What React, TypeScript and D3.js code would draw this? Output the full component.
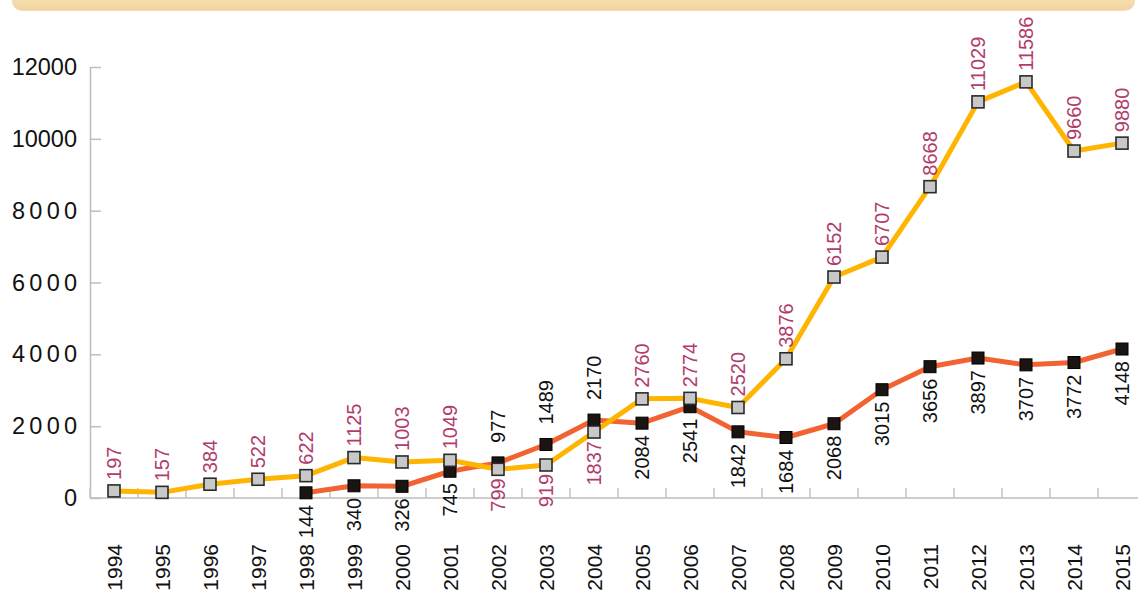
import React, { useEffect, useRef } from "react";
import * as d3 from "d3";

const years = [
  "1994", "1995", "1996", "1997", "1998", "1999", "2000", "2001", "2002", "2003", "2004",
  "2005", "2006", "2007", "2008", "2009", "2010", "2011", "2012", "2013", "2014", "2015",
];

// gray-square series (yellow line)
const seriesA = [
  197, 157, 384, 522, 622, 1125, 1003, 1049, 799, 919, 1837,
  2760, 2774, 2520, 3876, 6152, 6707, 8668, 11029, 11586, 9660, 9880,
];
// black-square series (red line), starts in 1998
const seriesB = [
  null, null, null, null, 144, 340, 326, 745, 977, 1489, 2170,
  2084, 2541, 1842, 1684, 2068, 3015, 3656, 3897, 3707, 3772, 4148,
];

// label side for each point: "up" or "down"
const labelSideA = years.map(y => (y === "2002" || y === "2003" || y === "2004" ? "down" : "up"));
const labelSideB = years.map(y => (y === "2002" || y === "2003" || y === "2004" ? "up" : "down"));

const yTicks = [0, 2000, 4000, 6000, 8000, 10000, 12000];

const W = 1138;
const H = 591;
const FONT = "'Liberation Sans', Arial, Helvetica, sans-serif";

const App = () => {
  const ref = useRef<SVGSVGElement>(null);

  useEffect(() => {
    const svg = d3.select(ref.current);
    svg.selectAll("*").remove();

    const left = 90;
    const base = 498;

    // top banner
    const defs = svg.append("defs");
    const grad = defs.append("linearGradient")
      .attr("id", "banner")
      .attr("x1", 0).attr("y1", 0).attr("x2", 0).attr("y2", 1);
    grad.append("stop").attr("offset", "0%").attr("stop-color", "#fdf0d2");
    grad.append("stop").attr("offset", "100%").attr("stop-color", "#f2d49c");
    svg.append("rect")
      .attr("x", 12).attr("y", -20)
      .attr("width", 1123).attr("height", 31)
      .attr("rx", 10)
      .attr("fill", "#ecdcc0");
    svg.append("rect")
      .attr("x", 12).attr("y", -20)
      .attr("width", 1122).attr("height", 30)
      .attr("rx", 10)
      .attr("fill", "url(#banner)");

    const x = d3.scaleBand()
      .domain(years)
      .range([left, left + 48 * years.length])
      .padding(0);

    const y = d3.scaleLinear()
      .domain([0, 12000])
      .range([base, 67]);

    const cx = (d: string) => x(d)! + x.bandwidth() / 2;

    // y axis
    const yAxis = svg.append("g")
      .attr("transform", `translate(${left},0)`)
      .call(
        d3.axisLeft(y)
          .tickValues(yTicks)
          .tickSizeInner(-11)
          .tickSizeOuter(0)
          .tickPadding(13)
          .tickFormat(d3.format("d"))
      );
    yAxis.select(".domain").attr("stroke", "#bdbdbd").attr("stroke-width", 1.5);
    yAxis.selectAll(".tick line").attr("stroke", "#bdbdbd").attr("stroke-width", 1.5);
    yAxis.selectAll(".tick text")
      .attr("font-family", FONT)
      .attr("font-size", 23.5)
      .attr("fill", "#111")
      .attr("x", -13)
      .each(function (d: any) {
        if (d >= 2000 && d < 10000) {
          d3.select(this).attr("textLength", 65).attr("lengthAdjust", "spacing");
        }
      });

    // x axis
    const xg = svg.append("g");
    xg.append("line")
      .attr("x1", left).attr("x2", W)
      .attr("y1", base).attr("y2", base)
      .attr("stroke", "#bdbdbd").attr("stroke-width", 1.5);
    xg.selectAll("line.tick")
      .data(years)
      .join("line")
      .attr("class", "tick")
      .attr("x1", d => x(d)!).attr("x2", d => x(d)!)
      .attr("y1", base).attr("y2", base - 10)
      .attr("stroke", "#c4c4c4").attr("stroke-width", 1.5);
    xg.selectAll("text")
      .data(years)
      .join("text")
      .attr("transform", d => `translate(${cx(d) + 8},544) rotate(-90)`)
      .attr("text-anchor", "end")
      .attr("font-family", FONT)
      .attr("font-size", 21)
      .attr("fill", "#111")
      .text(d => d);

    const rowsA = years.map((yr, i) => ({ yr, v: seriesA[i], side: labelSideA[i] }));
    const rowsB = years
      .map((yr, i) => ({ yr, v: seriesB[i] as number, side: labelSideB[i] }))
      .filter(d => d.v != null);

    const line = d3.line<{ yr: string; v: number }>()
      .x(d => cx(d.yr))
      .y(d => y(d.v));

    svg.append("path")
      .datum(rowsB)
      .attr("fill", "none")
      .attr("stroke", "#f26332")
      .attr("stroke-width", 5)
      .attr("stroke-linejoin", "round")
      .attr("d", line);

    svg.append("path")
      .datum(rowsA)
      .attr("fill", "none")
      .attr("stroke", "#ffb400")
      .attr("stroke-width", 5)
      .attr("stroke-linejoin", "round")
      .attr("d", line);

    const sq = 12;
    svg.append("g")
      .selectAll("rect")
      .data(rowsB)
      .join("rect")
      .attr("x", d => cx(d.yr) - sq / 2)
      .attr("y", d => y(d.v) - sq / 2)
      .attr("width", sq).attr("height", sq)
      .attr("fill", "#1a1512")
      .attr("stroke", "#000")
      .attr("stroke-width", 1);

    svg.append("g")
      .selectAll("rect")
      .data(rowsA)
      .join("rect")
      .attr("x", d => cx(d.yr) - sq / 2)
      .attr("y", d => y(d.v) - sq / 2)
      .attr("width", sq).attr("height", sq)
      .attr("fill", "#c8c8c8")
      .attr("stroke", "#2a2a2a")
      .attr("stroke-width", 1.6);

    // value labels
    const addLabels = (rows: any[], color: string, upGap: number, downGap: number) => {
      svg.append("g")
        .selectAll("text")
        .data(rows)
        .join("text")
        .attr("transform", d => {
          const py = d.side === "up" ? y(d.v) - upGap : y(d.v) + downGap;
          return `translate(${cx(d.yr) + 7},${py}) rotate(-90)`;
        })
        .attr("text-anchor", d => (d.side === "up" ? "start" : "end"))
        .attr("font-family", FONT)
        .attr("font-size", 20)
        .attr("fill", color)
        .text(d => d.v);
    };
    addLabels(rowsA, "#b03c6c", 11, 9);
    addLabels(rowsB, "#111", 20, 12);
  }, []);

  return (
    <svg
      ref={ref}
      width={W}
      height={H}
      style={{ position: "absolute", left: 0, top: 0, background: "#fff" }}
    ></svg>
  );
};

export default App;
